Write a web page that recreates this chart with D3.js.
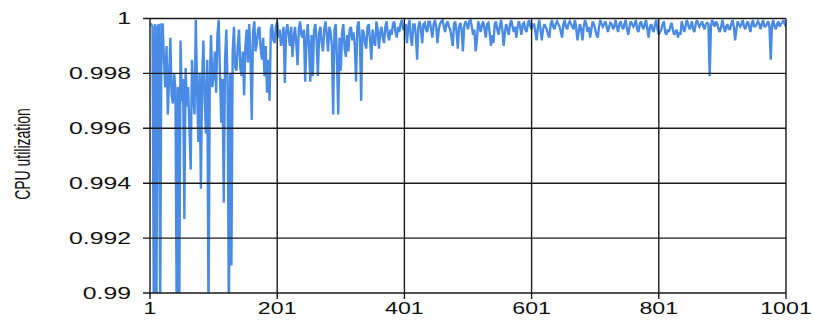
<!DOCTYPE html>
<html>
<head>
<meta charset="utf-8">
<script src="https://cdn.jsdelivr.net/npm/d3@7"></script>
<style>
  html, body { margin: 0; padding: 0; background: #fff; }
  svg { display: block; }
  text { font-family: "Liberation Sans", Arial, sans-serif; fill: #111; }
</style>
</head>
<body>
<svg id="chart" width="814" height="320"></svg>
<script>
// ---- data ----
const xTicks = [1, 201, 401, 601, 801, 1001];
const yTicks = [0.99, 0.992, 0.994, 0.996, 0.998, 1];
const yTickLabels = ["0.99", "0.992", "0.994", "0.996", "0.998", "1"];
const yTitle = "CPU utilization";
const sampleStep = 2; // one reading every 2 iterations, starting at 1
const cpuUtil = [
  0.9998, 0.9998, 0.9997, 0.989, 0.9998, 0.989, 0.9997, 0.9998, 0.989, 0.9998,
  0.9998, 0.9984, 0.9975, 0.9990, 0.9965, 0.9978, 0.9993, 0.9972, 0.9969, 0.9980,
  0.9974, 0.989, 0.9975, 0.989, 0.9992, 0.9970, 0.9978, 0.9927, 0.9982, 0.9968,
  0.9975, 0.9960, 0.9945, 0.9985, 0.9972, 0.9965, 0.99995, 0.9975, 0.9955, 0.9980,
  0.9938, 0.9978, 0.9992, 0.9970, 0.9958, 0.9985, 0.989, 0.9978, 0.9994, 0.9975,
  0.9979, 0.9988, 0.9973, 0.9994, 0.99995, 0.9980, 0.9962, 0.9978, 0.9933, 0.9985,
  0.9996, 0.9975, 0.989, 0.9980, 0.9910, 0.9988, 0.9997, 0.9982, 0.9981, 0.9990,
  0.9996, 0.9982, 0.9979, 0.9988, 0.9972, 0.9990, 0.9996, 0.9984, 0.9998, 0.9986,
  0.9963, 0.9995, 0.9999, 0.9988, 0.9991, 0.9996, 0.9997, 0.9989, 0.9985, 0.9993,
  0.9979, 0.9990, 0.9973, 0.9985, 0.9970, 0.9996, 0.9998, 0.9992, 0.9991, 0.9997,
  0.9999, 0.9993, 0.9996, 0.9990, 0.9993, 0.9997, 0.99765, 0.9995, 0.9998, 0.9994,
  0.9990, 0.9997, 0.9986, 0.9993, 0.9997, 0.9991, 0.9983, 0.9996, 0.9999, 0.9994,
  0.9993, 0.9996, 0.9977, 0.9992, 0.9998, 0.9990, 0.9977, 0.9994, 0.9979, 0.9996,
  0.9998, 0.9992, 0.9979, 0.9995, 0.9997, 0.9991, 0.9988, 0.9996, 0.9999, 0.9994,
  0.9988, 0.9997, 0.9995, 0.9990, 0.9965, 0.9996, 0.9998, 0.9985, 0.9965, 0.9993,
  0.9981, 0.9995, 0.9998, 0.9989, 0.9986, 0.9994, 0.9988, 0.9996, 0.9997, 0.9992,
  0.9995, 0.9990, 0.9977, 0.9997, 0.9999, 0.9993, 0.9970, 0.9996, 0.9995, 0.9991,
  0.9989, 0.9997, 0.9998, 0.9992, 0.9985, 0.9996, 0.9992, 0.9990, 0.9999, 0.9996,
  0.9989, 0.9995, 0.9997, 0.9993, 0.9991, 0.9997, 0.9999, 0.9994, 0.9992, 0.9996,
  0.9994, 0.9998, 0.9999, 0.9995, 0.9993, 0.9997, 0.9995, 0.9998, 0.99995, 0.9996,
  0.9996, 0.9998, 0.9991, 0.9997, 0.99995, 0.9993, 0.9990, 0.9998, 0.9998, 0.9994,
  0.9985, 0.9997, 0.9999, 0.9996, 0.9991, 0.9998, 0.99985, 0.9996, 0.9995, 0.9999,
  0.9999, 0.9996, 0.9993, 0.9998, 0.99995, 0.9997, 0.9991, 0.9996, 0.9998, 0.9999,
  0.99995, 0.9997, 0.9995, 0.9998, 0.9999, 0.9997, 0.9996, 0.9993, 0.9990, 0.9998,
  0.9999, 0.9995, 0.9989, 0.9997, 0.99985, 0.9996, 0.9988, 0.9997, 0.9999, 0.9998,
  0.9996, 0.9999, 0.99995, 0.9997, 0.9994, 0.9996, 0.9988, 0.9992, 0.9999, 0.9997,
  0.9995, 0.9998, 0.9999, 0.9996, 0.9993, 0.9998, 0.99985, 0.9995, 0.9990, 0.9994,
  0.9991, 0.9998, 0.9999, 0.9996, 0.9994, 0.9997, 0.99995, 0.9996, 0.9990, 0.9995,
  0.9998, 0.9996, 0.9994, 0.9998, 0.99995, 0.9997, 0.9995, 0.9997, 0.9993, 0.9997,
  0.9999, 0.9997, 0.9994, 0.9998, 0.99985, 0.9996, 0.9995, 0.9998, 0.99995, 0.9997,
  0.9996, 0.9998, 0.9998, 0.9995, 0.9992, 0.9997, 0.99995, 0.9996, 0.9992, 0.9996,
  0.9998, 0.9997, 0.9996, 0.9994, 0.9993, 0.9998, 0.99995, 0.9997, 0.9996, 0.9998,
  0.9999, 0.9998, 0.9997, 0.9995, 0.9993, 0.9998, 0.99995, 0.9997, 0.9996, 0.9998,
  0.9999, 0.9998, 0.9997, 0.9996, 0.99995, 0.9997, 0.9992, 0.9995, 0.9998, 0.9996,
  0.9992, 0.9997, 0.99995, 0.9998, 0.9995, 0.9997, 0.9993, 0.9996, 0.9999, 0.9998,
  0.9996, 0.9994, 0.9993, 0.9997, 0.99995, 0.9998, 0.9997, 0.9998, 0.9999, 0.9997,
  0.9995, 0.9997, 0.99985, 0.9998, 0.9996, 0.9997, 0.99995, 0.9997, 0.9995, 0.9998,
  0.9999, 0.9997, 0.9996, 0.9998, 0.99995, 0.9996, 0.9994, 0.9997, 0.9999, 0.9998,
  0.9997, 0.9998, 0.99995, 0.9996, 0.9995, 0.9998, 0.9999, 0.9997, 0.9996, 0.9998,
  0.99995, 0.9996, 0.9993, 0.9997, 0.9998, 0.9996, 0.9995, 0.9998, 0.99995, 0.9996,
  0.9994, 0.9995, 0.9996, 0.9998, 0.9999, 0.9995, 0.9994, 0.9996, 0.9995, 0.9997,
  0.99985, 0.9996, 0.9994, 0.9995, 0.9996, 0.9993, 0.9995, 0.9994, 0.9999, 0.9997,
  0.9995, 0.9997, 0.99995, 0.9998, 0.9996, 0.9997, 0.9999, 0.9996, 0.9995, 0.9998,
  0.99995, 0.9998, 0.9997, 0.9998, 0.9999, 0.9997, 0.9996, 0.9998, 0.99985, 0.9998,
  0.9979, 0.9997, 0.99995, 0.9998, 0.9997, 0.9999, 0.9998, 0.9996, 0.9995, 0.9997,
  0.99995, 0.9997, 0.9995, 0.9997, 0.9998, 0.9996, 0.9996, 0.9998, 0.99995, 0.9997,
  0.9992, 0.9996, 0.9999, 0.9998, 0.9997, 0.9998, 0.99995, 0.9997, 0.9996, 0.9998,
  0.9999, 0.9997, 0.9995, 0.9998, 0.99995, 0.9997, 0.9997, 0.9998, 0.9999, 0.9998,
  0.9996, 0.9998, 0.99995, 0.9997, 0.9997, 0.9998, 0.9999, 0.9997, 0.9985, 0.9998,
  0.99995, 0.9997, 0.9996, 0.9998, 0.9999, 0.9997, 0.9998, 0.99985, 0.99995, 0.9998,
  0.9997
];
const iterations = cpuUtil.map((v, i) => 1 + i * sampleStep);

// ---- layout ----
const svg = d3.select("#chart");
const plotLeft = 150, plotRight = 786, plotTop = 18.5, plotBottom = 293;
const hStretch = 1.5; // the reference picture is horizontally stretched
const lineColor = "#4a8be6";

const x = d3.scaleLinear().domain([1, 1001]).range([plotLeft, plotRight]);
const xu = d3.scaleLinear().domain([1, 1001]).range([plotLeft / hStretch, plotRight / hStretch]);
const y = d3.scaleLinear().domain([0.99, 1]).range([plotBottom, plotTop]);

svg.append("defs").append("clipPath").attr("id", "plotclip")
  .append("rect").attr("x", plotLeft).attr("y", plotTop - 1)
  .attr("width", plotRight - plotLeft).attr("height", plotBottom - plotTop + 1);

// line (drawn in unstretched space, then stretched horizontally)
const line = d3.line().x((d, i) => xu(iterations[i])).y(d => y(d));
svg.append("g").attr("clip-path", "url(#plotclip)")
  .append("path")
  .datum(cpuUtil)
  .attr("transform", `scale(${hStretch},1)`)
  .attr("fill", "none")
  .attr("stroke", lineColor)
  .attr("stroke-width", 1.6)
  .attr("stroke-linejoin", "miter")
  .attr("d", line);

// grid (drawn above line, as in reference)
const grid = svg.append("g").attr("stroke", "#1a1a1a").attr("stroke-width", 1.4);
grid.selectAll("line.h").data(yTicks).join("line").attr("class", "h")
  .attr("x1", plotLeft - 7).attr("x2", plotRight)
  .attr("y1", d => y(d)).attr("y2", d => y(d));
grid.selectAll("line.v").data(xTicks).join("line").attr("class", "v")
  .attr("x1", d => x(d)).attr("x2", d => x(d))
  .attr("y1", plotTop).attr("y2", plotBottom + 6);

// y tick labels
svg.append("g").selectAll("text").data(yTicks).join("text")
  .attr("transform", d => `translate(131,${y(d) + 5.8}) scale(1.55,1)`)
  .attr("text-anchor", "end")
  .attr("font-size", 16)
  .text((d, i) => yTickLabels[i]);

// x tick labels
svg.append("g").selectAll("text").data(xTicks).join("text")
  .attr("transform", d => `translate(${x(d)},314) scale(1.45,1)`)
  .attr("text-anchor", "middle")
  .attr("font-size", 16)
  .text(d => String(d));

// y axis title
svg.append("text")
  .attr("transform", `translate(30,154) scale(1.6,1) rotate(-90)`)
  .attr("text-anchor", "middle")
  .attr("font-size", 14)
  .text(yTitle);
</script>
</body>
</html>
